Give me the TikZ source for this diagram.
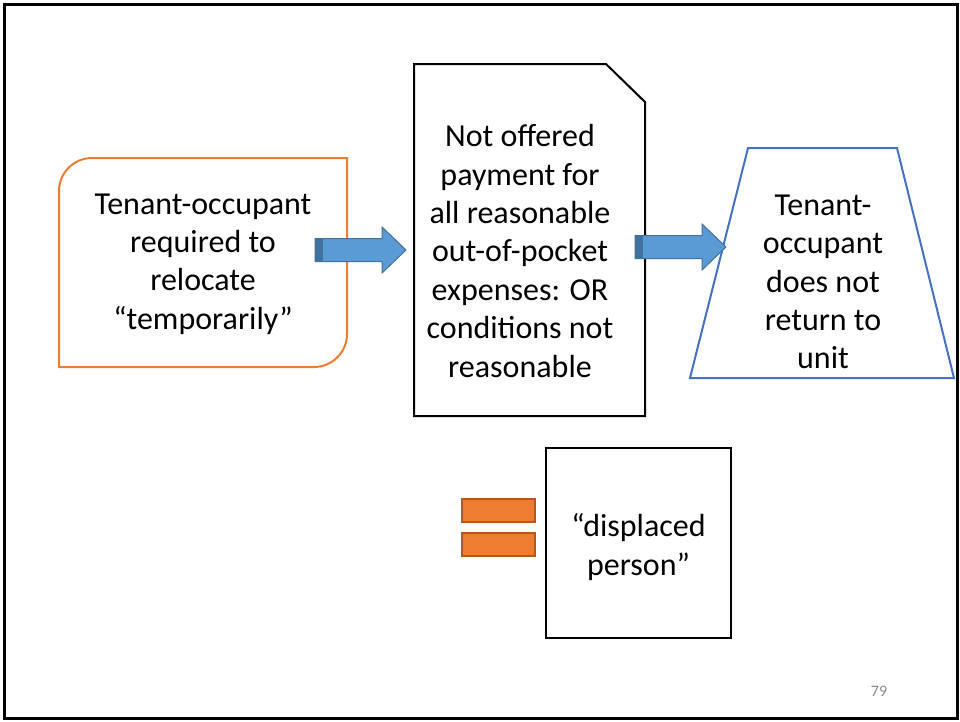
\documentclass[tikz,border=0pt]{standalone}
\usepackage{fontspec}
\setmainfont{Carlito}
\definecolor{boxorange}{HTML}{ED7D31}
\definecolor{baredge}{HTML}{AE5A21}
\definecolor{trapblue}{HTML}{4472C4}
\definecolor{arrowfill}{HTML}{5B9BD5}
\definecolor{arrowedge}{HTML}{41719C}
\definecolor{pagegray}{HTML}{898989}
\tikzset{
  blockarrow/.pic={
    \filldraw[fill=arrowfill,draw=arrowedge,line width=0.75pt]
      (0,-11.5) -- (67,-11.5) -- (67,-23) -- (91,0) -- (67,23) -- (67,11.5) -- (0,11.5) -- cycle;
    \fill[arrowedge] (0,-11.5) rectangle (8,11.5);
  }
}
\begin{document}
\begin{tikzpicture}[x=0.75pt,y=-0.75pt,
  txt/.style={align=center,font=\fontsize{24}{28.8}\selectfont,inner sep=0pt},
  eqbar/.style={fill=boxorange,draw=baredge,line width=1.5pt,minimum width=54.75pt,minimum height=17.25pt,inner sep=0pt}]
  \useasboundingbox (0,0) rectangle (960,721);
  \draw[line width=2.25pt] (4.5,4.5) rectangle (957,718.5);
  % rounded box
  \draw[boxorange,line width=1.5pt] (59,367) -- (59,191)
    .. controls (59,172.8) and (73.8,158) .. (92,158) -- (347,158) -- (347,334)
    .. controls (347,352.2) and (332.2,367) .. (314,367) -- cycle;
  \node[txt] (relocate) at (203,264) {Tenant-occupant\\required to\\relocate\\“temporarily”};
  % snipped page
  \draw[line width=1.5pt] (414,64) -- (606,64) -- (645,102) -- (645,416) -- (414,416) -- cycle;
  \node[txt] (notoffered) at (520,251) {Not offered\\payment for\\all reasonable\\out-of-pocket\\expenses: OR\\conditions not\\reasonable};
  % trapezoid
  \draw[trapblue,line width=1.5pt] (748,148) -- (897,148) -- (954,378) -- (690,378) -- cycle;
  \node[txt] (noreturn) at (823,282) {Tenant-\\occupant\\does not\\return to\\unit};
  \pic (arrA) at (315,250) {blockarrow};
  \pic (arrB) at (635,247) {blockarrow};
  % equals
  \node[eqbar] (eqtop) at (498.5,510.5) {};
  \node[eqbar] (eqbot) at (498.5,544) {};
  \node[draw,line width=1.5pt,minimum width=138.75pt,minimum height=142.5pt] (displacedbox) at (638.5,543) {};
  \node[txt] (displaced) at (638.5,547) {“displaced\\person”};
  \node[font=\fontsize{12}{14}\selectfont,text=pagegray] (pagenum) at (879,691) {79};
\end{tikzpicture}
\end{document}
